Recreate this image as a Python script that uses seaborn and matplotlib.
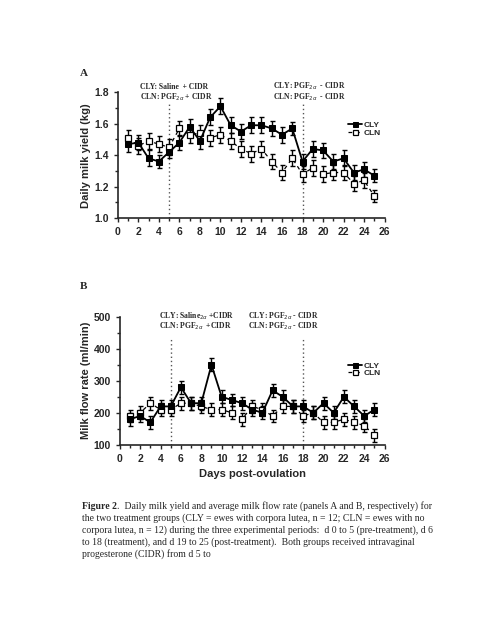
import matplotlib
matplotlib.use("Agg")
import matplotlib.pyplot as plt
import seaborn as sns
import pandas as pd
from matplotlib.ticker import MultipleLocator, FormatStrFormatter

# dias y valores
dias = list(range(1, 26))
leche_cly = [1.47, 1.48, 1.38, 1.36, 1.42, 1.48, 1.58, 1.49, 1.64, 1.71, 1.59, 1.55, 1.59,
             1.59, 1.57, 1.53, 1.57, 1.36, 1.44, 1.43, 1.36, 1.38, 1.29, 1.31, 1.27]
leche_cln = [1.51, 1.46, 1.49, 1.47, 1.45, 1.57, 1.53, 1.54, 1.51, 1.53, 1.49, 1.44, 1.41,
             1.44, 1.36, 1.29, 1.38, 1.28, 1.32, 1.28, 1.29, 1.29, 1.22, 1.24, 1.14]
leche_err_cly = [0.05, 0.05, 0.05, 0.04, 0.04, 0.05, 0.05, 0.05, 0.05, 0.05, 0.05, 0.05, 0.05,
                 0.05, 0.05, 0.05, 0.04, 0.05, 0.05, 0.05, 0.05, 0.05, 0.05, 0.05, 0.04]
leche_err_cln = [0.05, 0.05, 0.05, 0.05, 0.05, 0.05, 0.05, 0.05, 0.05, 0.05, 0.05, 0.05, 0.05,
                 0.05, 0.05, 0.05, 0.05, 0.05, 0.05, 0.05, 0.05, 0.05, 0.05, 0.05, 0.04]

flujo_cly = [180, 190, 170, 220, 220, 280, 230, 230, 350, 250, 240, 230, 210,
             200, 270, 250, 220, 220, 200, 230, 200, 250, 220, 190, 210]
flujo_cln = [190, 200, 230, 210, 210, 230, 230, 220, 210, 210, 200, 180, 220,
             210, 190, 220, 220, 190, 200, 170, 170, 180, 170, 160, 130]
flujo_err = [20] * 25

caption_lineas = [
    ".  Daily milk yield and average milk flow rate (panels A and B, respectively) for",
    "the two treatment groups (CLY = ewes with corpora lutea, n = 12; CLN = ewes with no",
    "corpora lutea, n = 12) during the three experimental periods:  d 0 to 5 (pre-treatment), d 6",
    "to 18 (treatment), and d 19 to 25 (post-treatment).  Both groups received intravaginal",
    "progesterone (CIDR) from d 5 to",
]

sns.set_style("ticks")
plt.rcParams['font.family'] = ['Liberation Sans', 'DejaVu Sans']

fig = plt.figure(figsize=(4.95, 6.4), dpi=100)
axA = fig.add_axes([0.238, 0.659, 0.539, 0.197])
axB = fig.add_axes([0.242, 0.305, 0.535, 0.200])


def panel(ax, y_cly, y_cln, e_cly, e_cln, ylim, major, minor, vtop, leg_y):
    df = pd.DataFrame({'dia': dias * 2, 'valor': y_cly + y_cln,
                       'grupo': ['CLY'] * 25 + ['CLN'] * 25})
    frac = (vtop - ylim[0]) / (ylim[1] - ylim[0])
    ax.axvline(5, ymax=frac, color='#555555', ls=(0, (1, 2)), lw=1)
    ax.axvline(18, ymax=frac, color='#555555', ls=(0, (1, 2)), lw=1)
    ax.errorbar(dias, y_cln, yerr=e_cln, fmt='none', ecolor='black', elinewidth=1, capsize=1.8)
    ax.errorbar(dias, y_cly, yerr=e_cly, fmt='none', ecolor='black', elinewidth=1, capsize=1.8)
    sns.lineplot(data=df[df.grupo == 'CLN'], x='dia', y='valor', ax=ax, color='black',
                 marker='s', markersize=4.5, markerfacecolor='white', markeredgecolor='black',
                 markeredgewidth=0.9, linestyle=(0, (3, 3)), lw=0.9, label='CLN', zorder=3)
    sns.lineplot(data=df[df.grupo == 'CLY'], x='dia', y='valor', ax=ax, color='black',
                 marker='s', markersize=4.5, markerfacecolor='black', markeredgecolor='black',
                 lw=1.3, label='CLY', zorder=4)
    ax.set_xlim(0, 26)
    ax.set_ylim(*ylim)
    ax.xaxis.set_major_locator(MultipleLocator(2))
    ax.xaxis.set_minor_locator(MultipleLocator(1))
    ax.yaxis.set_major_locator(MultipleLocator(major))
    ax.yaxis.set_minor_locator(MultipleLocator(minor))
    ax.tick_params(labelsize=7.5, width=1, length=3)
    ax.tick_params(which='minor', length=2, width=1)
    for lab in ax.get_xticklabels() + ax.get_yticklabels():
        lab.set_fontweight('bold')
    for s in ['left', 'bottom']:
        ax.spines[s].set_linewidth(1.2)
    sns.despine(ax=ax)
    h, l = ax.get_legend_handles_labels()
    leg = ax.legend([h[1], h[0]], [l[1], l[0]], loc='upper right', bbox_to_anchor=(1.0, leg_y),
                    frameon=False, fontsize=6, handlelength=1.6, handletextpad=0.2,
                    labelspacing=-0.05, borderpad=0, markerscale=0.8)
    for t in leg.get_texts():
        t.set_fontweight('bold')


panel(axA, leche_cly, leche_cln, leche_err_cly, leche_err_cln, (1.0, 1.8), 0.2, 0.1, 1.73, 0.80)
axA.set_xlabel('')
axA.set_ylabel('Daily milk yield (kg)', fontsize=8, fontweight='bold', labelpad=2)
axA.yaxis.set_major_formatter(FormatStrFormatter('%.1f'))
for lab in axA.get_yticklabels():
    lab.set_fontweight('bold')

panel(axB, flujo_cly, flujo_cln, flujo_err, flujo_err, (100, 500), 100, 50, 430, 0.68)
axB.set_xlabel('Days post-ovulation', fontsize=8, fontweight='bold')
axB.set_ylabel('Milk flow rate (ml/min)', fontsize=8, fontweight='bold', labelpad=2)

serif = dict(family=['Liberation Serif', 'DejaVu Serif'], fontsize=5.5, fontweight='bold')
fig.text(0.282, 0.861, 'CLY: Saline  + CIDR', **serif)
fig.text(0.282, 0.845, r'CLN: PGF$_{2\alpha}$ + CIDR', **serif)
fig.text(0.552, 0.861, r'CLY: PGF$_{2\alpha}$  - CIDR', **serif)
fig.text(0.552, 0.845, r'CLN: PGF$_{2\alpha}$  - CIDR', **serif)
fig.text(0.322, 0.503, r'CLY: Saline$_{2\alpha}$ +CIDR', **serif)
fig.text(0.322, 0.487, r'CLN: PGF$_{2\alpha}$  +CIDR', **serif)
fig.text(0.502, 0.503, r'CLY: PGF$_{2\alpha}$ - CIDR', **serif)
fig.text(0.502, 0.487, r'CLN: PGF$_{2\alpha}$ - CIDR', **serif)

fig.text(0.162, 0.882, 'A', family=['Liberation Serif'], fontsize=8, fontweight='bold')
fig.text(0.162, 0.548, 'B', family=['Liberation Serif'], fontsize=8, fontweight='bold')

# pie de figura: "Figure 2" en negrita y el resto normal
cap_font = dict(family=['Liberation Serif'], fontsize=7.0, va='baseline')
x0, y0, paso = 0.166, 1 - 509 / 640, 11.9 / 640
t = fig.text(x0, y0, 'Figure 2', fontweight='bold', **cap_font)
fig.canvas.draw()
bb = t.get_window_extent()
fig.text(bb.x1 / fig.bbox.width, y0, caption_lineas[0], fontweight='normal', **cap_font)
for i, linea in enumerate(caption_lineas[1:], start=1):
    fig.text(x0, y0 - i * paso, linea, fontweight='normal', **cap_font)

fig.savefig('out.png', dpi=100)
